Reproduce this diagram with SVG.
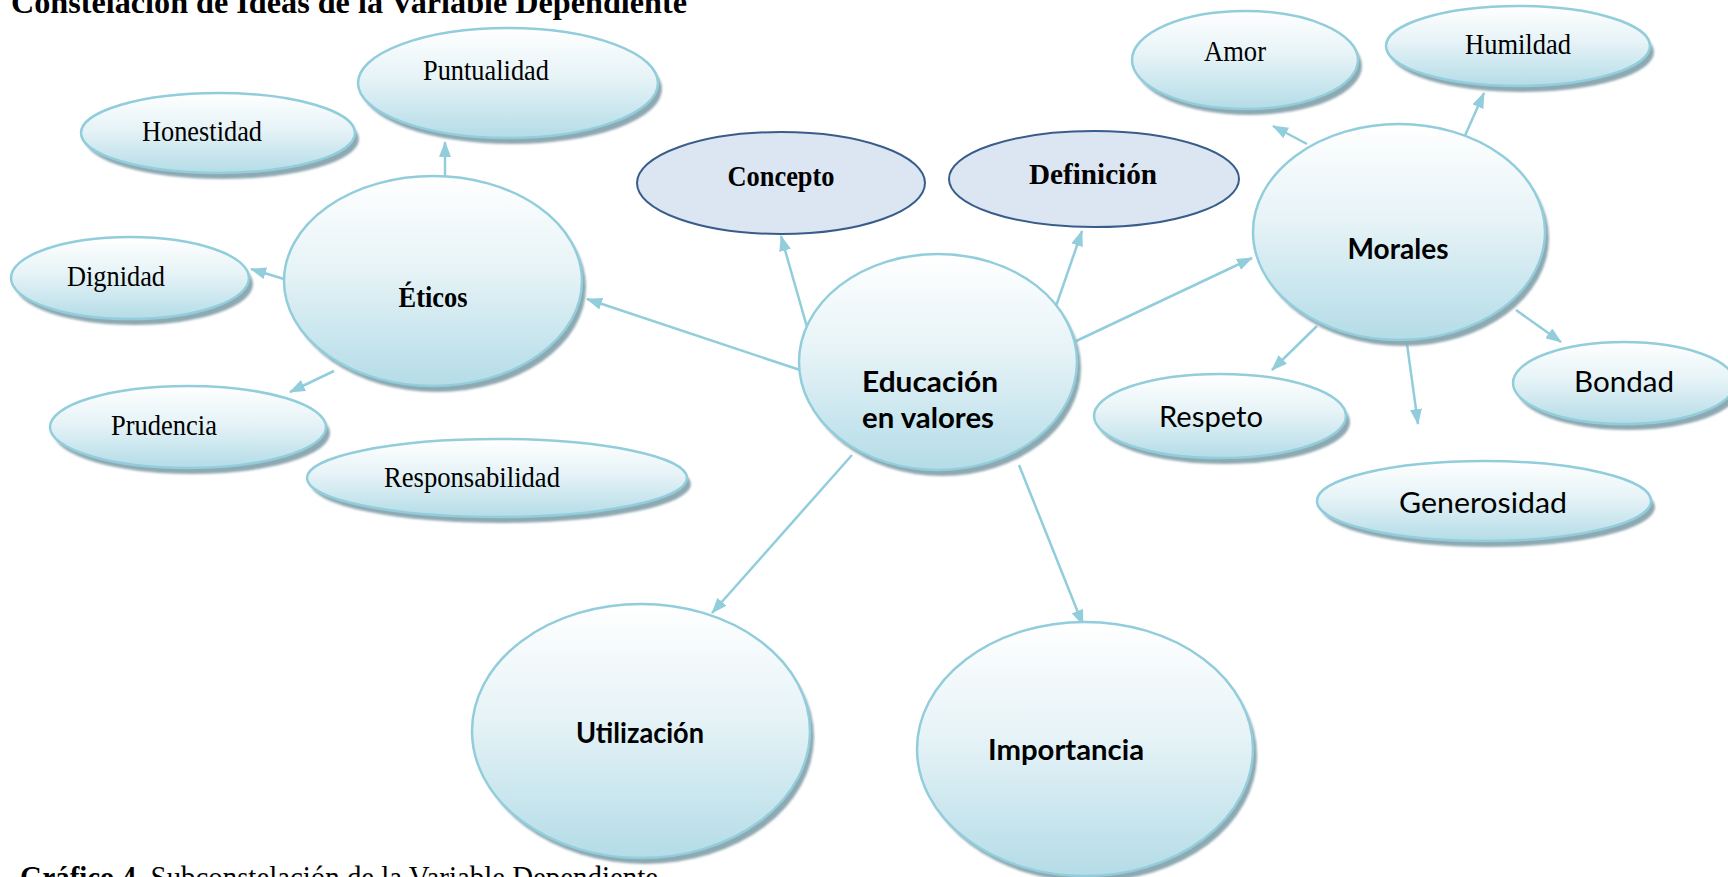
<svg xmlns="http://www.w3.org/2000/svg" width="1728" height="877" viewBox="0 0 1728 877">
<defs>
<linearGradient id="aqua" x1="0" y1="0" x2="0" y2="1">
<stop offset="0" stop-color="#ffffff"/>
<stop offset="0.45" stop-color="#e6f3f7"/>
<stop offset="1" stop-color="#b4dce7"/>
</linearGradient>
<filter id="soft" x="-10%" y="-10%" width="120%" height="130%">
<feGaussianBlur stdDeviation="1.2"/>
</filter>
<marker id="arr" viewBox="0 0 16 12" refX="15" refY="6" markerWidth="16" markerHeight="12" markerUnits="userSpaceOnUse" orient="auto">
<path d="M0,0 L16,6 L0,12 Z" fill="#92cddc"/>
</marker>
<style>
.sh{fill:#8ea9b2;filter:url(#soft)}
.bub{fill:url(#aqua);stroke:#92cddc;stroke-width:2.5}
.blue{fill:#dce6f2;stroke:#385d8a;stroke-width:2}
.tr{font-family:"Liberation Serif","Times New Roman",serif;font-size:29px;fill:#000;text-anchor:middle}
.tb{font-family:"Liberation Serif","Times New Roman",serif;font-size:30px;font-weight:bold;fill:#000;text-anchor:middle}
.gb{font-family:Lato,"Open Sans",sans-serif;font-size:28px;font-weight:bold;fill:#000;text-anchor:middle}
.gr{font-family:Lato,"Open Sans",sans-serif;font-size:28px;fill:#000;text-anchor:middle}
.cn line{stroke:#92cddc;stroke-width:2.5;marker-end:url(#arr)}
.cap{font-family:"Liberation Serif","Times New Roman",serif;font-size:32px;fill:#000}
</style>
</defs>
<rect width="1728" height="877" fill="#ffffff"/>

<text class="cap" x="11" y="13" font-weight="bold" textLength="676" lengthAdjust="spacingAndGlyphs">Constelación de Ideas de la Variable Dependiente</text>

<g id="connectors" class="cn">
<line x1="800" y1="370" x2="587" y2="299"/>
<line x1="807" y1="327" x2="781" y2="236"/>
<line x1="1054" y1="312" x2="1082" y2="231"/>
<line x1="1074" y1="342" x2="1252" y2="258"/>
<line x1="852" y1="455" x2="712" y2="613"/>
<line x1="1019" y1="465" x2="1083" y2="625"/>
<line x1="445" y1="176" x2="445" y2="142"/>
<line x1="284" y1="279" x2="251" y2="269"/>
<line x1="334" y1="371" x2="290" y2="392"/>
<line x1="1307" y1="144" x2="1273" y2="126"/>
<line x1="1463" y1="140" x2="1484" y2="93"/>
<line x1="1317" y1="326" x2="1272" y2="370"/>
<line x1="1407" y1="344" x2="1418" y2="424"/>
<line x1="1516" y1="310" x2="1561" y2="342"/>
</g>

<g id="puntualidad">
<ellipse class="sh" cx="512" cy="89" rx="150" ry="55"/>
<ellipse class="bub" cx="508" cy="83" rx="150" ry="55"/>
<text class="tr" x="486" y="80" textLength="126" lengthAdjust="spacingAndGlyphs">Puntualidad</text>
</g>
<g id="honestidad">
<ellipse class="sh" cx="222" cy="139" rx="137" ry="40"/>
<ellipse class="bub" cx="218" cy="133" rx="137" ry="40"/>
<text class="tr" x="202" y="141" textLength="120" lengthAdjust="spacingAndGlyphs">Honestidad</text>
</g>
<g id="dignidad">
<ellipse class="sh" cx="134" cy="284" rx="119" ry="41"/>
<ellipse class="bub" cx="130" cy="278" rx="119" ry="41"/>
<text class="tr" x="116" y="286" textLength="98" lengthAdjust="spacingAndGlyphs">Dignidad</text>
</g>
<g id="eticos">
<ellipse class="sh" cx="437" cy="287" rx="149" ry="105"/>
<ellipse class="bub" cx="433" cy="281" rx="149" ry="105"/>
<text class="tb" x="433" y="307" textLength="69" lengthAdjust="spacingAndGlyphs">Éticos</text>
</g>
<g id="prudencia">
<ellipse class="sh" cx="192" cy="433" rx="138" ry="41"/>
<ellipse class="bub" cx="188" cy="427" rx="138" ry="41"/>
<text class="tr" x="164" y="435" textLength="106" lengthAdjust="spacingAndGlyphs">Prudencia</text>
</g>
<g id="responsabilidad">
<ellipse class="sh" cx="501" cy="484" rx="190" ry="39"/>
<ellipse class="bub" cx="497" cy="478" rx="190" ry="39"/>
<text class="tr" x="472" y="487" textLength="176" lengthAdjust="spacingAndGlyphs">Responsabilidad</text>
</g>
<g id="concepto">
<ellipse class="blue" cx="781" cy="183" rx="144" ry="51"/>
<text class="tb" x="781" y="186" font-size="28" textLength="107" lengthAdjust="spacingAndGlyphs">Concepto</text>
</g>
<g id="definicion">
<ellipse class="blue" cx="1094" cy="179" rx="145" ry="48"/>
<text class="tb" x="1093" y="184" font-size="31" textLength="128" lengthAdjust="spacingAndGlyphs">Definición</text>
</g>
<g id="educacion">
<ellipse class="sh" cx="942" cy="368" rx="139" ry="108"/>
<ellipse class="bub" cx="938" cy="362" rx="139" ry="108"/>
<text class="gb" x="930" y="392" textLength="136" lengthAdjust="spacingAndGlyphs">Educación</text>
<text class="gb" x="928" y="428" textLength="132" lengthAdjust="spacingAndGlyphs">en valores</text>
</g>
<g id="morales">
<ellipse class="sh" cx="1403" cy="238" rx="146" ry="108"/>
<ellipse class="bub" cx="1399" cy="232" rx="146" ry="108"/>
<text class="gb" x="1398" y="259" textLength="101" lengthAdjust="spacingAndGlyphs">Morales</text>
</g>
<g id="amor">
<ellipse class="sh" cx="1249" cy="66" rx="113" ry="49"/>
<ellipse class="bub" cx="1245" cy="60" rx="113" ry="49"/>
<text class="tr" x="1235" y="61" textLength="62" lengthAdjust="spacingAndGlyphs">Amor</text>
</g>
<g id="humildad">
<ellipse class="sh" cx="1522" cy="52" rx="132" ry="40"/>
<ellipse class="bub" cx="1518" cy="46" rx="132" ry="40"/>
<text class="tr" x="1518" y="54" textLength="106" lengthAdjust="spacingAndGlyphs">Humildad</text>
</g>
<g id="respeto">
<ellipse class="sh" cx="1224" cy="422" rx="126" ry="42"/>
<ellipse class="bub" cx="1220" cy="416" rx="126" ry="42"/>
<text class="gr" x="1211" y="427" textLength="104" lengthAdjust="spacingAndGlyphs">Respeto</text>
</g>
<g id="bondad">
<ellipse class="sh" cx="1628" cy="389" rx="111" ry="41"/>
<ellipse class="bub" cx="1624" cy="383" rx="111" ry="41"/>
<text class="gr" x="1624" y="392" textLength="100" lengthAdjust="spacingAndGlyphs">Bondad</text>
</g>
<g id="generosidad">
<ellipse class="sh" cx="1488" cy="507" rx="167" ry="40"/>
<ellipse class="bub" cx="1484" cy="501" rx="167" ry="40"/>
<text class="gr" x="1483" y="513" textLength="168" lengthAdjust="spacingAndGlyphs">Generosidad</text>
</g>
<g id="utilizacion">
<ellipse class="sh" cx="645" cy="737" rx="169" ry="127"/>
<ellipse class="bub" cx="641" cy="731" rx="169" ry="127"/>
<text class="gb" x="640" y="743" textLength="128" lengthAdjust="spacingAndGlyphs">Utilización</text>
</g>
<g id="importancia">
<ellipse class="sh" cx="1089" cy="755" rx="168" ry="127"/>
<ellipse class="bub" cx="1085" cy="749" rx="168" ry="127"/>
<text class="gb" x="1066" y="760" textLength="156" lengthAdjust="spacingAndGlyphs">Importancia</text>
</g>

<text class="cap" x="20" y="888" font-size="30" textLength="638" lengthAdjust="spacingAndGlyphs"><tspan font-weight="bold">Gráfico 4.</tspan> Subconstelación de la Variable Dependiente</text>
</svg>
